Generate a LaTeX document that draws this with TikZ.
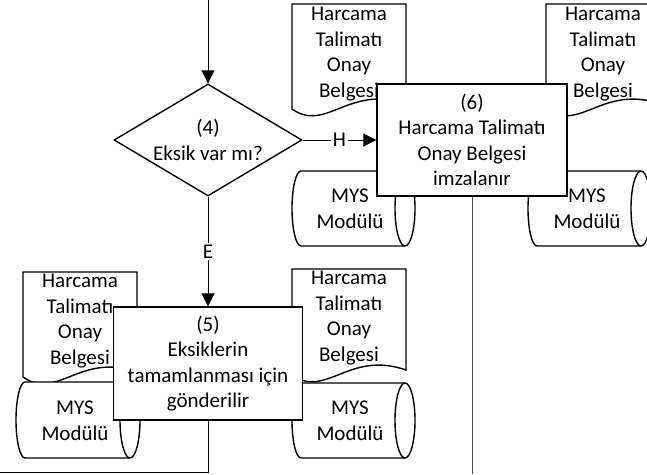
\documentclass[tikz,border=0pt]{standalone}
\usepackage{fontspec}
\setmainfont{Carlito}
\usetikzlibrary{shapes.geometric,arrows.meta}

\begin{document}
\begin{tikzpicture}[x=1pt,y=1pt]
        \tikzstyle{every node}+=[inner sep=0pt, align=center, font=\fontsize{21}{25.5}\selectfont]
        \tikzstyle{boxline}=[draw=black, line width=1.4pt, fill=white]
        \tikzstyle{flowline}=[draw=black, line width=0.9pt]
        \tikzstyle{arrowed}=[-{Triangle[length=13pt,width=13pt]}]
        \useasboundingbox (0,0) rectangle (647,-474);
        \clip (0,0) rectangle (647,-474);
        % documents
        \draw [boxline] (292,-4) -- (406,-4) -- (406,-104) .. controls (349,-84) and (326,-133) .. (292,-109) -- cycle;
        \node (doc1) at (349,-54) {Harcama\\Talimatı\\Onay\\Belgesi};
        \draw [boxline] (546,-4) -- (660,-4) -- (660,-104) .. controls (603,-84) and (580,-133) .. (546,-109) -- cycle;
        \node (doc2) at (603,-54) {Harcama\\Talimatı\\Onay\\Belgesi};
        \draw [boxline] (23,-272) -- (137,-272) -- (137,-372) .. controls (80,-352) and (57,-401) .. (23,-377) -- cycle;
        \node (doc3) at (80,-321) {Harcama\\Talimatı\\Onay\\Belgesi};
        \draw [boxline] (292,-269) -- (406,-269) -- (406,-370) .. controls (349,-350) and (326,-399) .. (292,-375) -- cycle;
        \node (doc4) at (349,-318) {Harcama\\Talimatı\\Onay\\Belgesi};
        % MYS cylinders
        \draw [boxline] (301,-171) -- (405,-171) arc (90:-90:10 and 37.5) -- (301,-246) arc (270:90:9 and 37.5);
        \draw [boxline, fill=none] (405,-171) arc (90:270:10 and 37.5);
        \node (mys1) at (350,-209) {MYS\\Modülü};
        \draw [boxline] (537,-171) -- (641,-171) arc (90:-90:10 and 37.5) -- (537,-246) arc (270:90:9 and 37.5);
        \draw [boxline, fill=none] (641,-171) arc (90:270:10 and 37.5);
        \node (mys2) at (587,-209) {MYS\\Modülü};
        \draw [boxline] (25,-382) -- (130,-382) arc (90:-90:10 and 38) -- (25,-458) arc (270:90:9 and 38);
        \draw [boxline, fill=none] (130,-382) arc (90:270:10 and 38);
        \node (mys3) at (75,-421) {MYS\\Modülü};
        \draw [boxline] (301,-383) -- (405,-383) arc (90:-90:10 and 37.5) -- (301,-458) arc (270:90:9 and 37.5);
        \draw [boxline, fill=none] (405,-383) arc (90:270:10 and 37.5);
        \node (mys4) at (350,-421) {MYS\\Modülü};
        % steps
        \node [boxline, diamond, minimum width=188pt, minimum height=112pt] (d4) at (208,-140) {};
        \node (t4) at (d4) {(4)\\Eksik var mı?};
        \node [boxline, rectangle, minimum width=190pt, minimum height=112pt] (b6) at (472,-140) {(6)\\Harcama Talimatı\\Onay Belgesi\\imzalanır};
        \node [boxline, rectangle, minimum width=189pt, minimum height=113pt] (b5) at (208,-363.5) {(5)\\Eksiklerin\\tamamlanması için\\gönderilir};
        % connectors
        \coordinate (s4) at (208,0);
        \coordinate (e6) at (472,-474);
        \coordinate (e5) at (0,-472);
        \draw [flowline, arrowed] (s4) -- (d4.north);
        \draw [flowline, arrowed] (d4.east) -- node [fill=white, inner sep=2pt] (h) {H} (b6.west);
        \draw [flowline, arrowed] (d4.south) -- node [fill=white, inner sep=2pt] (e) {E} (b5.north);
        \draw [flowline, black!70] (b6.south) -- (e6);
        \draw [flowline] (b5.south) |- (e5);
\end{tikzpicture}
\end{document}
